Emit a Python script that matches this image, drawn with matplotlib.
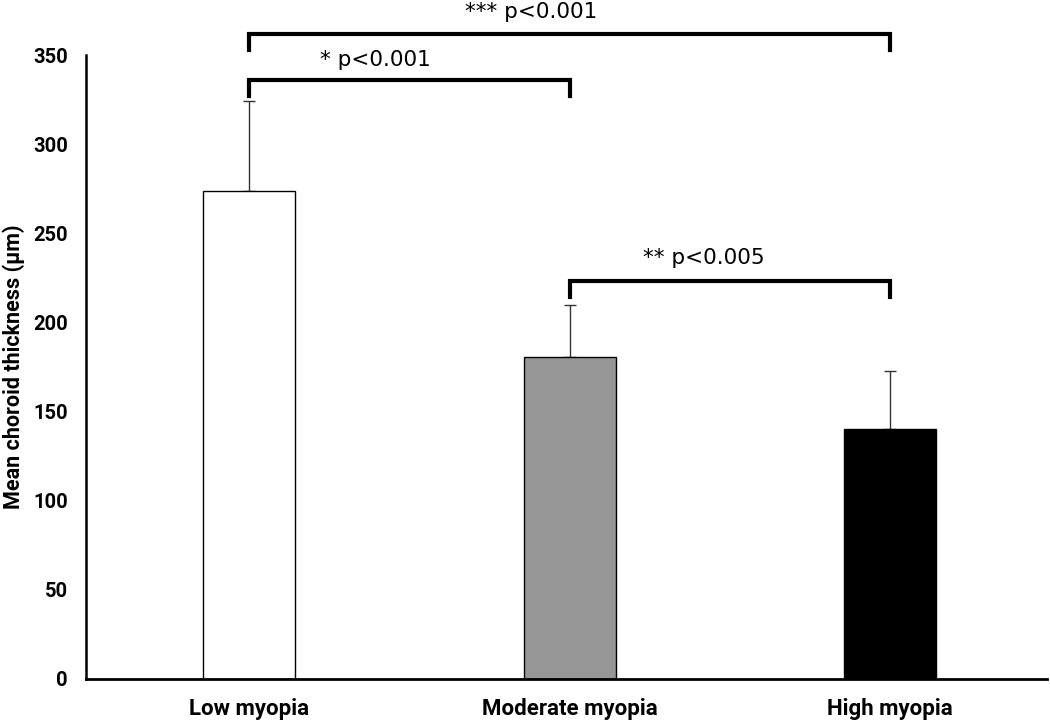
import numpy as np
import matplotlib
matplotlib.use('Agg')
import matplotlib.pyplot as plt

## ------------  Data  ---------------
groups = ['Low myopia', 'Moderate myopia', 'High myopia']
means = [274, 180.5, 140]
sds = [50, 29, 33]
bar_colors = ['white', '#969696', 'black']
# comparisons: (left idx, right idx), bracket height, label
comp_pairs = [(0, 2), (0, 1), (1, 2)]
comp_heights = [362, 336, 223]
comp_labels = ['*** p<0.001', '* p<0.001', '** p<0.005']
yticks = [0, 50, 100, 150, 200, 250, 300, 350]

lab_font = ['Roboto', 'DejaVu Sans']

fig = plt.figure(figsize=(10.5, 7.22), dpi=100)
ax = fig.add_axes([0.082, 0.0596, 0.915, 0.8642])

x = np.arange(len(groups))
ax.bar(x, means, width=0.287, color=bar_colors, edgecolor='black', linewidth=1, zorder=2)
ax.errorbar(x, means, yerr=[np.zeros(len(sds)), sds], fmt='none', ecolor='#333333',
            elinewidth=1, capsize=4, capthick=1, zorder=1)

## brackets
tick_len = 9
for (i, j), h in zip(comp_pairs, comp_heights):
    ax.plot([i, i, j, j], [h - tick_len, h, h, h - tick_len], color='black', lw=3,
            solid_joinstyle='miter', clip_on=False, zorder=3)
ax.text(0.88, 374, comp_labels[0], ha='center', va='center', fontsize=15.5, clip_on=False)
ax.text(0.394, 347, comp_labels[1], ha='center', va='center', fontsize=15.5)
ax.text(1.418, 236, comp_labels[2], ha='center', va='center', fontsize=15.5)

ax.set_xlim(-0.51, 2.49)
ax.set_ylim(0, 350)
ax.set_yticks(yticks)
ax.set_yticklabels([str(t) for t in yticks], family=lab_font, fontweight='bold', fontsize=14.5)
ax.set_xticks(x)
ax.set_xticklabels(groups, family=lab_font, fontweight='bold', fontsize=16)
ax.tick_params(axis='both', length=0)
ax.tick_params(axis='x', pad=14)
ax.tick_params(axis='y', pad=13)
ax.set_ylabel('Mean choroid thickness (µm)', family=lab_font, fontweight='bold', fontsize=15.5, labelpad=6)

for s in ['top', 'right']:
    ax.spines[s].set_visible(False)
ax.spines['left'].set_linewidth(1.8)
ax.spines['bottom'].set_linewidth(2)

fig.savefig('out.png', dpi=100)
